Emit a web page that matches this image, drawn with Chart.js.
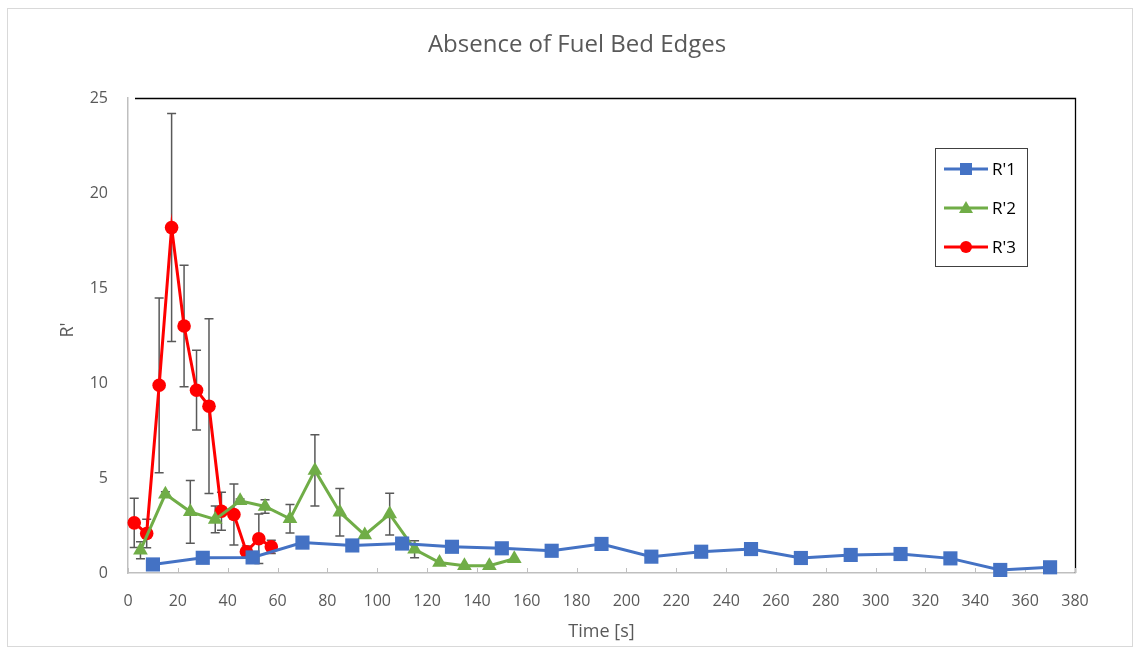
<!DOCTYPE html>
<html>
<head>
<meta charset="utf-8">
<script src="https://cdn.jsdelivr.net/npm/chart.js@4.4.1/dist/chart.umd.min.js"></script>
<style>
html,body{margin:0;padding:0;background:#fff;}
#wrap{width:1139px;height:653px;position:relative;}
</style>
</head>
<body>
<div id="wrap"><canvas id="c" width="1139" height="653"></canvas></div>
<script>
const chartTitle = "Absence of Fuel Bed Edges";
const xTitle = "Time [s]";
const yTitle = "R'";
const seriesNames = ["R'1", "R'2", "R'3"];

const xR1 = [10,30,50,70,90,110,130,150,170,190,210,230,250,270,290,310,330,350,370];
const yR1 = [0.45,0.8,0.82,1.6,1.45,1.55,1.38,1.3,1.17,1.53,0.86,1.12,1.26,0.79,0.95,1.0,0.77,0.16,0.3];
const eR1 = [0,0,0.25,0,0,0,0,0,0,0,0,0,0,0,0,0,0,0,0];

const xR2 = [5,15,25,35,45,55,65,75,85,95,105,115,125,135,145,155];
const yR2 = [1.2,4.15,3.22,2.82,3.8,3.5,2.85,5.4,3.2,2.0,3.1,1.25,0.55,0.38,0.38,0.75];
const eR2 = [0.45,0.12,1.65,0.7,0.1,0.35,0.75,1.87,1.25,0,1.1,0.45,0,0,0,0];

const xR3 = [2.5,7.5,12.5,17.5,22.5,27.5,32.5,37.5,42.5,47.5,52.5,57.5];
const yR3 = [2.64,2.08,9.88,18.18,13.0,9.62,8.78,3.25,3.08,1.12,1.8,1.38];
const eR3 = [1.3,0.75,4.6,6.0,3.2,2.1,4.6,1.0,1.6,0.3,1.3,0.35];

const xTicks = [0,20,40,60,80,100,120,140,160,180,200,220,240,260,280,300,320,340,360,380];
const yTicks = [0,5,10,15,20,25];

const FONT = "'Open Sans', 'Noto Sans', sans-serif";
const colors = ['#4472C4', '#70AD47', '#FF0000'];
const shapes = ['rect', 'triangle', 'circle'];
const radii = [10, 8.5, 6.8];

function pts(xs, ys){ return xs.map((x,i)=>({x:x, y:ys[i]})); }
const errs = [eR1, eR2, eR3];

const frame = {
  id: 'frame',
  beforeDraw(chart){
    const ctx = chart.ctx;
    ctx.save();
    ctx.fillStyle = '#fff';
    ctx.fillRect(0,0,chart.width,chart.height);
    ctx.strokeStyle = '#d9d9d9';
    ctx.lineWidth = 1;
    ctx.strokeRect(7.5, 8.5, 1125, 638);
    ctx.fillStyle = '#595959';
    ctx.font = "24px " + FONT;
    ctx.textAlign = 'center';
    ctx.textBaseline = 'middle';
    ctx.fillText(chartTitle, 577, 45);
    // y axis title
    ctx.font = "18px " + FONT;
    ctx.translate(68, 330);
    ctx.rotate(-Math.PI/2);
    ctx.fillText(yTitle, 0, 0);
    ctx.restore();
  },
  beforeDatasetsDraw(chart){
    const ctx = chart.ctx;
    const a = chart.chartArea;
    const xs = chart.scales.x, ys = chart.scales.y;
    ctx.save();
    ctx.strokeStyle = '#000';
    ctx.lineWidth = 1.3;
    ctx.beginPath();
    ctx.moveTo(a.left + 7, a.top + 0.5);
    ctx.lineTo(a.right + 0.5, a.top + 0.5);
    ctx.lineTo(a.right + 0.5, a.bottom);
    ctx.stroke();
    ctx.strokeStyle = '#bfbfbf';
    ctx.lineWidth = 1;
    xTicks.forEach(t=>{
      const px = Math.round(xs.getPixelForValue(t)) + 0.5;
      ctx.beginPath();
      ctx.moveTo(px, a.bottom);
      ctx.lineTo(px, a.bottom - 5);
      ctx.stroke();
    });
    ctx.strokeStyle = '#595959';
    ctx.lineWidth = 1.5;
    chart.data.datasets.forEach((ds, di)=>{
      ds.data.forEach((p, i)=>{
        const e = errs[di][i];
        if (!e) return;
        const px = xs.getPixelForValue(p.x);
        const top = ys.getPixelForValue(p.y + e);
        const bot = ys.getPixelForValue(p.y - e);
        ctx.beginPath();
        ctx.moveTo(px, top); ctx.lineTo(px, bot);
        ctx.moveTo(px - 4.5, top); ctx.lineTo(px + 4.5, top);
        ctx.moveTo(px - 4.5, bot); ctx.lineTo(px + 4.5, bot);
        ctx.stroke();
      });
    });
    ctx.restore();
  },
  afterDraw(chart){
    const ctx = chart.ctx;
    ctx.save();
    const bx = 935.5, by = 148.5, bw = 92, bh = 118;
    ctx.fillStyle = '#fff';
    ctx.fillRect(bx, by, bw, bh);
    ctx.strokeStyle = '#404040';
    ctx.lineWidth = 1;
    ctx.strokeRect(bx, by, bw, bh);
    const rows = [169, 208, 247];
    rows.forEach((ry, i)=>{
      ctx.strokeStyle = colors[i];
      ctx.lineWidth = 3;
      ctx.beginPath();
      ctx.moveTo(944, ry); ctx.lineTo(988, ry);
      ctx.stroke();
      ctx.fillStyle = colors[i];
      ctx.beginPath();
      if (shapes[i]==='rect'){ ctx.rect(960, ry-6, 12, 12); }
      else if (shapes[i]==='triangle'){ ctx.moveTo(966, ry-7); ctx.lineTo(973, ry+5); ctx.lineTo(959, ry+5); ctx.closePath(); }
      else { ctx.arc(966, ry, 6, 0, Math.PI*2); }
      ctx.fill();
      ctx.fillStyle = '#000';
      ctx.font = "17px " + FONT;
      ctx.textAlign = 'left';
      ctx.textBaseline = 'middle';
      ctx.fillText(seriesNames[i], 992, ry + 1);
    });
    ctx.restore();
  }
};

const cfg = {
  type: 'line',
  data: {
    datasets: [
      {label: seriesNames[0], data: pts(xR1, yR1)},
      {label: seriesNames[1], data: pts(xR2, yR2)},
      {label: seriesNames[2], data: pts(xR3, yR3)}
    ].map((d, i)=>Object.assign(d, {
      borderColor: colors[i],
      backgroundColor: colors[i],
      pointBackgroundColor: colors[i],
      pointBorderColor: colors[i],
      pointBorderWidth: 0,
      pointStyle: shapes[i],
      pointRadius: radii[i],
      pointHoverRadius: radii[i],
      borderWidth: 3,
      tension: 0,
      fill: false,
      clip: false
    }))
  },
  options: {
    responsive: false,
    animation: false,
    events: [],
    layout: {padding: {left: 8, right: 64, top: 98, bottom: 6}},
    plugins: {legend: {display: false}, title: {display: false}, tooltip: {enabled: false}},
    scales: {
      x: {
        type: 'linear', min: 0, max: 380,
        afterBuildTicks(s){ s.ticks = xTicks.map(v=>({value:v})); },
        afterFit(s){ s.height = 74; },
        grid: {display: false, drawTicks: false},
        border: {display: true, color: '#bfbfbf', width: 1.5},
        ticks: {color: '#595959', font: {family: FONT, size: 16}, padding: 19, maxRotation: 0, autoSkip: false},
        title: {display: true, text: xTitle, color: '#595959', font: {family: FONT, size: 18}, padding: {top: 4}}
      },
      y: {
        min: 0, max: 25,
        afterBuildTicks(s){ s.ticks = yTicks.map(v=>({value:v})); },
        afterFit(s){ s.width = 120; },
        grid: {display: false, drawTicks: false},
        border: {display: true, color: '#bfbfbf', width: 1.5},
        ticks: {color: '#595959', font: {family: FONT, size: 16}, padding: 20},
        title: {display: false}
      }
    }
  },
  plugins: [frame]
};
new Chart(document.getElementById('c'), cfg);
</script>
</body>
</html>
